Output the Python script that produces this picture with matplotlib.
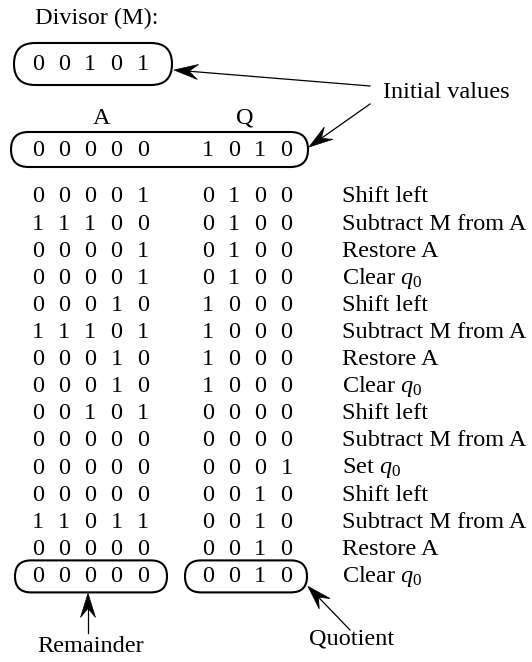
import numpy as np
import matplotlib
matplotlib.use("Agg")
import matplotlib.pyplot as plt
from matplotlib.patches import FancyBboxPatch, Polygon

plt.rcParams['font.family'] = ['Liberation Serif', 'DejaVu Serif']
plt.rcParams['mathtext.fontset'] = 'custom'
plt.rcParams['mathtext.rm'] = 'Liberation Serif'
plt.rcParams['mathtext.it'] = 'Liberation Serif:italic'

# ---- data ----
divisor = "00101"
a_init = "00000"
q_init = "1010"
a_rows = ["00001", "11100", "00001", "00001", "00010", "11101", "00010", "00010",
          "00101", "00000", "00000", "00000", "11011", "00000", "00000"]
q_rows = ["0100", "0100", "0100", "0100", "1000", "1000", "1000", "1000",
          "0000", "0000", "0001", "0010", "0010", "0010", "0010"]
steps = ["Shift left", "Subtract M from A", "Restore A", "Clear $q_0$",
         "Shift left", "Subtract M from A", "Restore A", "Clear $q_0$",
         "Shift left", "Subtract M from A", "Set $q_0$",
         "Shift left", "Subtract M from A", "Restore A", "Clear $q_0$"]

W, H = 532, 662
fig = plt.figure(figsize=(W / 100, H / 100), dpi=100)
ax = fig.add_axes([0, 0, 1, 1])
ax.set_xlim(0, W)
ax.set_ylim(H, 0)
ax.axis('off')

FS = 17.5
A_X0, Q_X0, DX = 38, 208, 26.2
ROW0, DY = 197, 27.1
LBL_X = 342


def bits(s, x0, y):
    for i, ch in enumerate(s):
        ax.text(x0 + i * DX, y, ch, fontsize=FS, ha='center', va='center')


def rbox(x0, y0, x1, y1):
    h = y1 - y0
    p = FancyBboxPatch((x0, y0), x1 - x0, h,
                       boxstyle=f"round,pad=0,rounding_size={h / 2}",
                       fill=False, lw=1.5, ec='black')
    ax.add_patch(p)


def arrow(tail, tip, L=24, hw=7.5, notch=15):
    tail = np.array(tail, float)
    tip = np.array(tip, float)
    d = tip - tail
    d /= np.linalg.norm(d)
    n = np.array([-d[1], d[0]])
    base = tip - d * L
    back = tip - d * notch
    ax.plot([tail[0], back[0]], [tail[1], back[1]], color='black', lw=0.9)
    ax.add_patch(Polygon([tip, base + n * hw, back, base - n * hw],
                         closed=True, fc='black', ec='black', lw=0.5))


# Divisor
ax.text(35, 18, "Divisor (M):", fontsize=FS, ha='left', va='center')
rbox(14, 43, 172, 85)
bits(divisor, A_X0, 64)

# initial values
ax.text(102, 118, "A", fontsize=FS, ha='center', va='center')
ax.text(245, 118, "Q", fontsize=FS, ha='center', va='center')
rbox(11, 132, 308, 167)
bits(a_init, A_X0, 151)
bits(q_init, Q_X0, 151)
ax.text(383, 93, "Initial values", fontsize=FS, ha='left', va='center')
arrow((370, 86), (174, 70))
arrow((370, 104), (309, 147))

# steps
for k, (a, q, s) in enumerate(zip(a_rows, q_rows, steps)):
    y = ROW0 + k * DY
    bits(a, A_X0, y)
    bits(q, Q_X0, y)
    ax.text(LBL_X, y, s, fontsize=FS, ha='left', va='center')

# result boxes
yl = ROW0 + (len(a_rows) - 1) * DY
rbox(15, yl - 16, 167, yl + 16)
rbox(185, yl - 16, 307, yl + 16)
arrow((88, 633), (88, yl + 17))
ax.text(91, 646, "Remainder", fontsize=FS, ha='center', va='center')
arrow((350, 630), (308, yl + 10))
ax.text(352, 639, "Quotient", fontsize=FS, ha='center', va='center')

fig.savefig("out.png", dpi=100)
